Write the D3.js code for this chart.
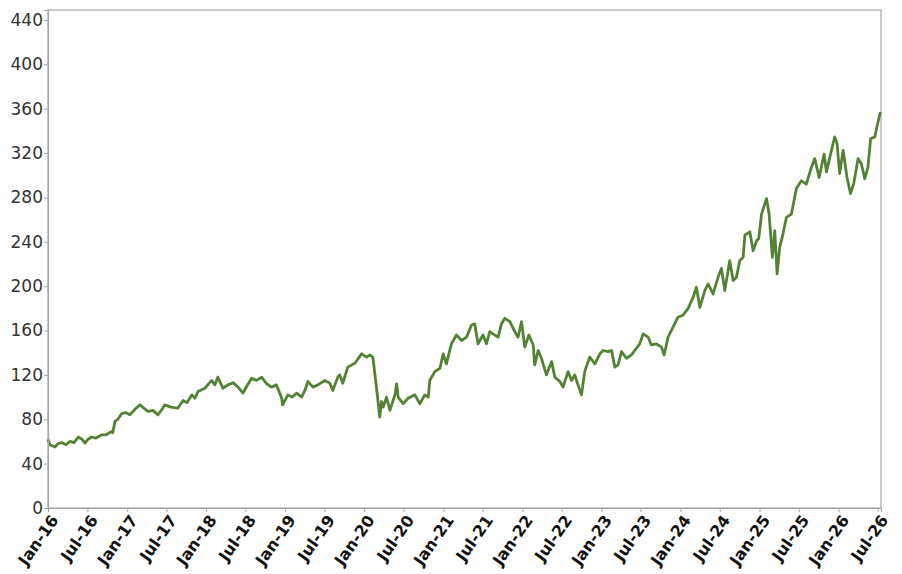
<!DOCTYPE html>
<html>
<head>
<meta charset="utf-8">
<script src="https://cdn.jsdelivr.net/npm/d3@7"></script>
<style>
  html, body { margin: 0; padding: 0; background: #fff; }
  svg { display: block; }
</style>
</head>
<body>
<svg id="chart" width="902" height="574"></svg>
<script>
// ---- data ----
const dates = [
  "2016-01-01","2016-01-10","2016-02-02","2016-02-16","2016-03-04","2016-03-24","2016-04-12","2016-04-30",
  "2016-05-20","2016-06-06","2016-06-20","2016-07-04","2016-07-21","2016-08-10","2016-09-05","2016-09-25",
  "2016-10-21","2016-10-27","2016-11-05","2016-11-19","2016-12-06","2016-12-26","2017-01-13","2017-02-06",
  "2017-03-01","2017-03-19","2017-04-07","2017-04-30","2017-05-23","2017-06-11","2017-06-24","2017-07-22",
  "2017-08-23","2017-09-16","2017-10-04","2017-10-27","2017-11-10","2017-11-24","2017-12-26","2018-01-26",
  "2018-02-10","2018-02-24","2018-03-19","2018-04-11","2018-05-05","2018-05-28","2018-06-20","2018-07-08",
  "2018-07-30","2018-08-22","2018-09-14","2018-10-07","2018-10-30","2018-11-22","2018-12-16","2018-12-20",
  "2019-01-14","2019-02-01","2019-02-23","2019-03-18","2019-04-02","2019-04-16","2019-05-09","2019-06-01",
  "2019-07-03","2019-07-26","2019-08-09","2019-09-01","2019-09-10","2019-09-24","2019-10-17","2019-11-19",
  "2019-12-20","2020-01-12","2020-01-27","2020-02-10","2020-02-19","2020-03-01","2020-03-13","2020-03-21",
  "2020-03-29","2020-04-13","2020-04-29","2020-05-22","2020-05-30","2020-06-06","2020-06-29","2020-07-22",
  "2020-08-22","2020-09-14","2020-10-07","2020-10-23","2020-10-30","2020-11-22","2020-12-16","2020-12-31",
  "2021-01-15","2021-02-07","2021-03-02","2021-03-26","2021-04-18","2021-05-11","2021-05-26","2021-06-10",
  "2021-07-03","2021-07-19","2021-08-03","2021-08-18","2021-09-11","2021-09-26","2021-10-12","2021-11-04",
  "2021-11-27","2021-12-12","2021-12-28","2022-01-12","2022-01-31","2022-02-20","2022-02-27","2022-03-15",
  "2022-03-30","2022-04-22","2022-05-16","2022-05-31","2022-06-23","2022-07-08","2022-07-31","2022-08-16",
  "2022-08-31","2022-09-15","2022-10-01","2022-10-16","2022-11-08","2022-12-02","2022-12-25","2023-01-09",
  "2023-02-01","2023-02-17","2023-03-04","2023-03-19","2023-04-04","2023-04-27","2023-05-20","2023-06-12",
  "2023-06-27","2023-07-13","2023-08-05","2023-08-20","2023-09-12","2023-10-06","2023-10-18","2023-11-05",
  "2023-11-28","2023-12-21","2024-01-14","2024-02-06","2024-02-29","2024-03-15","2024-03-31","2024-04-23",
  "2024-05-08","2024-05-31","2024-06-23","2024-07-09","2024-07-24","2024-08-16","2024-09-01","2024-09-16",
  "2024-10-01","2024-10-17","2024-10-25","2024-11-17","2024-12-02","2024-12-18","2024-12-28","2025-01-10",
  "2025-02-02","2025-02-14","2025-03-01","2025-03-12","2025-03-23","2025-04-04","2025-04-19","2025-05-05",
  "2025-05-28","2025-06-20","2025-07-13","2025-08-05","2025-08-28","2025-09-13","2025-10-03","2025-10-26",
  "2025-11-06","2025-11-29","2025-12-14","2025-12-25","2026-01-06","2026-01-22","2026-02-09","2026-02-25",
  "2026-03-12","2026-04-01","2026-04-16","2026-05-02","2026-05-17","2026-05-29","2026-06-17","2026-06-27",
  "2026-07-13"
];
const values = [
  62,57,55,58,59,57,60,59,
  64,62,58.5,62,64,63,66,66,
  69,68,78,80,85,86,84,89,
  93,90,87,88,84,89,93,91,
  90,97,95,102,99,105,108,115,
  111,118,108,111,113,109,103.5,110,
  117,115,118,112,109,111,99,93,
  102,100,103.5,100,106,114,109,111,
  115,112.6,106,118,120,112.5,127,130.5,
  139,136,138,136,121.5,103,82,96,
  91,100,88,102,112,100,94,99,
  102,94,102,100,115,123,126,139,
  130,148,156,151,154,165,166,148,
  156,148,159,157,154,166,171,168,
  159,154,168,145,156,147,129,142,
  135,120,132,118,114,109,123,115,
  120,111,102,123,136,130,139,142,
  141,142,127,129,141,135,138,144,
  148,157,154,147,148,145,138,154,
  163,172,174,180,190,199,181,196,
  202,193,208,216,196,223,205,208,
  223,226,246,249,232,241,243,265,
  279,265,226,250,211,235,247,262,
  265,288,295,292,307,315,298,319,
  303,322.5,334.5,328.5,301.5,322.5,298,283.5,
  292.5,315,310.5,297,307.5,333,334.5,343.5,
  357
];
const yTicks = [0,40,80,120,160,200,240,280,320,360,400,440];
const xTickDates = [
  "2016-01-01","2016-07-01","2017-01-01","2017-07-01","2018-01-01","2018-07-01",
  "2019-01-01","2019-07-01","2020-01-01","2020-07-01","2021-01-01","2021-07-01",
  "2022-01-01","2022-07-01","2023-01-01","2023-07-01","2024-01-01","2024-07-01",
  "2025-01-01","2025-07-01","2026-01-01","2026-07-01"
];
const xStart = "2016-01-01";
const xEnd = "2026-07-16";
const yMax = 449;

// ---- drawing ----
const parse = d3.timeParse("%Y-%m-%d");
const fmt = d3.timeFormat("%b-%y");
const data = dates.map((d, i) => ({ date: parse(d), value: values[i] }));

const margin = { left: 48, top: 10, right: 21, bottom: 66 };
const W = 902, H = 574;
const iw = W - margin.left - margin.right;
const ih = H - margin.top - margin.bottom;

const svg = d3.select("#chart");
const g = svg.append("g").attr("transform", `translate(${margin.left},${margin.top})`);

const x = d3.scaleTime().domain([parse(xStart), parse(xEnd)]).range([0, iw]);
const y = d3.scaleLinear().domain([0, yMax]).range([ih, 0]);

// frame
g.append("rect")
  .attr("x", 0).attr("y", 0).attr("width", iw).attr("height", ih)
  .attr("fill", "none").attr("stroke", "#a6a6a6").attr("stroke-width", 1.2);

// line
const line = d3.line().x(d => x(d.date)).y(d => y(d.value));
g.append("path")
  .datum(data)
  .attr("fill", "none")
  .attr("stroke", "#548235")
  .attr("stroke-width", 2.8)
  .attr("stroke-linejoin", "round")
  .attr("d", line);

// y axis
const yAxis = g.append("g")
  .call(d3.axisLeft(y).tickValues(yTicks).tickSize(4).tickPadding(1));
yAxis.select(".domain").attr("stroke", "#a6a6a6").attr("stroke-width", 1.2);
yAxis.selectAll(".tick line").attr("stroke", "#a6a6a6");
yAxis.selectAll("text")
  .attr("font-family", "DejaVu Sans, sans-serif")
  .attr("font-size", 17)
  .attr("fill", "#333");

// x axis
const xAxis = g.append("g")
  .attr("transform", `translate(0,${ih})`)
  .call(d3.axisBottom(x).tickValues(xTickDates.map(parse)).tickFormat(fmt).tickSize(4));
xAxis.select(".domain").attr("stroke", "#a6a6a6").attr("stroke-width", 1.2);
xAxis.selectAll(".tick line").attr("stroke", "#a6a6a6");
xAxis.selectAll("text")
  .attr("font-family", "DejaVu Sans, sans-serif")
  .attr("font-weight", "bold")
  .attr("font-size", 16)
  .attr("fill", "#111")
  .attr("text-anchor", "end")
  .attr("dx", 0)
  .attr("dy", 0)
  .attr("transform", "translate(5,8) rotate(-55)");
</script>
</body>
</html>
